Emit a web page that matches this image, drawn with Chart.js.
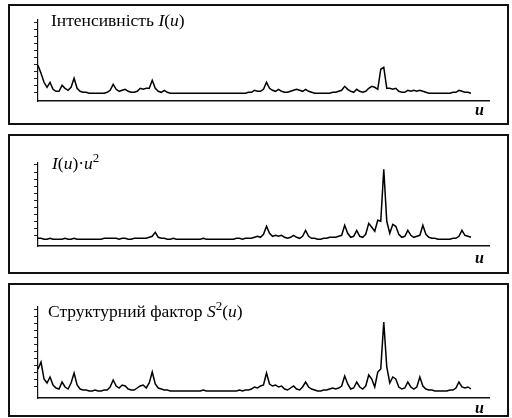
<!DOCTYPE html>
<html>
<head>
<meta charset="utf-8">
<script src="https://cdn.jsdelivr.net/npm/chart.js@4.4.0/dist/chart.umd.min.js"></script>
<style>
  html, body { margin: 0; padding: 0; background: #fff; }
  #wrap { position: relative; width: 512px; height: 418px; overflow: hidden; font-family: "Liberation Serif", "DejaVu Serif", serif; color: #000; }
  .box { position: absolute; left: 8px; width: 501px; border: 2px solid #111; box-sizing: border-box; }
  canvas { position: absolute; left: 0; }
  .ttl { position: absolute; font-size: 17.5px; line-height: 1; white-space: nowrap; }
  .ulab { position: absolute; left: 475px; font-size: 16px; font-style: italic; font-weight: bold; line-height: 1; }
  sup { font-size: 13px; vertical-align: 7px; line-height: 0; }
</style>
</head>
<body>
<div id="wrap">
  <div class="box" style="top:4px;height:121px"></div>
  <div class="box" style="top:134px;height:140px"></div>
  <div class="box" style="top:283px;height:134px"></div>

  <canvas id="c1" width="512" height="120" style="top:4px"></canvas>
  <canvas id="c2" width="512" height="139" style="top:134px"></canvas>
  <canvas id="c3" width="512" height="133" style="top:283px"></canvas>

  <div class="ttl" style="left:51px;top:12px">Інтенсивність <i>I</i>(<i>u</i>)</div>
  <div class="ttl" style="left:52px;top:155px"><i>I</i>(<i>u</i>)·<i>u</i><sup>2</sup></div>
  <div class="ttl" style="left:48px;top:303px">Структурний фактор <i>S</i><sup>2</sup>(<i>u</i>)</div>

  <div class="ulab" style="top:102px">u</div>
  <div class="ulab" style="top:250px">u</div>
  <div class="ulab" style="top:400px">u</div>
</div>

<script>
// === Три криві: I(u), I(u)*u^2, S^2(u) (висота піків у довільних одиницях) ===

// відліки по осі u
const u = [];
for (let i = 0; i <= 144; i++) u.push(i);

// Інтенсивність I(u)
const intensity = [
  28, 20, 11, 6, 11, 4, 2, 2, 8, 5,
  3, 6, 15, 5, 2, 1, 1, 0, 0, 0,
  0, 0, 0, 1, 3, 9, 4, 2, 3, 4,
  2, 1, 1, 2, 5, 4, 5, 5, 13, 5,
  2, 1, 3, 1, 0, 0, 0, 0, 0, 0,
  0, 0, 0, 0, 0, 0, 0, 0, 0, 0,
  0, 0, 0, 0, 0, 0, 0, 0, 0, 0,
  1, 1, 3, 2, 2, 4, 11, 5, 3, 2,
  4, 2, 1, 1, 2, 3, 4, 3, 2, 4,
  2, 1, 0, 0, 0, 0, 0, 0, 1, 1,
  2, 3, 7, 4, 2, 1, 4, 2, 1, 2,
  5, 7, 6, 4, 24, 26, 5, 5, 4, 5,
  2, 1, 1, 3, 2, 3, 2, 3, 2, 1,
  0, 0, 0, 0, 0, 0, 0, 0, 1, 1,
  3, 2, 1, 1, 0
];

// I(u)*u^2
const intensityU2 = [
  1, 1, 0, 0, 1, 0, 0, 0, 0, 1,
  0, 0, 1, 0, 0, 0, 0, 0, 0, 0,
  0, 0, 1, 1, 1, 1, 1, 0, 1, 1,
  0, 0, 1, 1, 1, 1, 1, 2, 3, 7,
  2, 1, 1, 0, 0, 1, 0, 0, 0, 0,
  0, 0, 0, 0, 0, 1, 0, 0, 0, 0,
  0, 0, 0, 0, 0, 0, 1, 1, 0, 1,
  1, 1, 2, 3, 2, 5, 13, 6, 3, 4,
  3, 4, 2, 1, 2, 4, 2, 1, 3, 9,
  3, 1, 1, 0, 0, 1, 1, 2, 2, 2,
  3, 4, 14, 6, 2, 3, 9, 3, 2, 5,
  16, 12, 8, 19, 18, 70, 18, 6, 15, 13,
  5, 2, 3, 9, 4, 2, 3, 4, 14, 5,
  2, 1, 1, 0, 0, 0, 0, 0, 1, 1,
  3, 9, 4, 3, 2
];

// Структурний фактор S^2(u)
const structFactor = [
  22, 29, 12, 8, 14, 6, 3, 2, 9, 4,
  2, 8, 18, 6, 2, 1, 1, 0, 0, 1,
  0, 0, 1, 1, 4, 11, 5, 3, 6, 5,
  2, 1, 1, 3, 5, 6, 3, 8, 19, 7,
  3, 2, 1, 1, 0, 0, 0, 0, 0, 0,
  0, 0, 0, 0, 0, 1, 0, 0, 0, 0,
  0, 0, 0, 0, 0, 0, 0, 1, 0, 1,
  1, 2, 4, 3, 5, 6, 18, 7, 5, 6,
  4, 5, 2, 1, 3, 5, 2, 1, 4, 9,
  4, 2, 1, 0, 0, 1, 1, 2, 3, 2,
  3, 5, 15, 7, 2, 3, 9, 4, 2, 5,
  16, 12, 4, 19, 22, 69, 24, 8, 14, 12,
  4, 2, 3, 9, 4, 2, 4, 14, 5, 2,
  1, 1, 0, 0, 0, 0, 0, 1, 1, 3,
  9, 4, 3, 4, 2
];

function makePanel(id, values, yMin, yMax, pad) {
  new Chart(document.getElementById(id), {
    type: 'line',
    data: {
      labels: u,
      datasets: [{
        data: values,
        borderColor: '#000',
        borderWidth: 1.5,
        pointRadius: 0,
        tension: 0
      }]
    },
    options: {
      responsive: false,
      animation: false,
      layout: { padding: pad },
      plugins: { legend: { display: false }, tooltip: { enabled: false } },
      scales: {
        x: {
          type: 'linear',
          min: 0,
          max: 150,
          ticks: { display: false },
          grid: { display: false },
          border: { color: '#111', width: 1.6 },
          afterFit: s => { s.height = 0; }
        },
        y: {
          min: yMin,
          max: yMax,
          ticks: { display: false },
          grid: { drawOnChartArea: false, drawTicks: true, tickLength: 4, color: '#222', lineWidth: 1 },
          border: { color: '#111', width: 1.2 },
          afterBuildTicks: s => {
            const t = [];
            for (let v = yMax - 2; v > yMin + 8; v -= 7) t.push({ value: v });
            s.ticks = t;
          },
          afterFit: s => { s.width = 6; }
        }
      }
    }
  });
}

makePanel('c1', intensity, -7.7, 73.3, { left: 32, right: 23, top: 16, bottom: 23 });
makePanel('c2', intensityU2, -6.7, 76.3, { left: 32, right: 23, top: 29, bottom: 27 });
makePanel('c3', structFactor, -7, 84, { left: 32, right: 23, top: 24, bottom: 18 });
</script>
</body>
</html>
